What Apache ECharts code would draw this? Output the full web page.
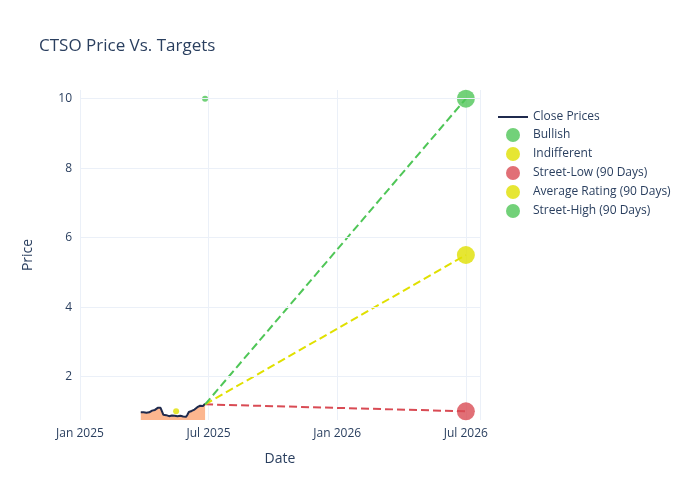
<!DOCTYPE html>
<html>
<head>
<meta charset="UTF-8">
<script src="https://cdn.jsdelivr.net/npm/echarts@6/dist/echarts.min.js"></script>
</head>
<body style="margin:0">
<div id="container" style="width:700px;height:500px"></div>
<script>
// x values are days since 2025-01-01
var priceDays = [86,88,90,92,94,96,98,100,102,104,106,108,110,112,114,116,118,120,122,124,126,128,130,132,134,136,138,140,142,144,146,148,150,152,154,156,158,160,162,164,166,168,170,172,174,176,177];
var priceVals = [0.97,0.96,0.97,0.95,0.96,0.94,0.97,1.0,1.02,1.05,1.04,1.08,1.1,1.06,1.1,1.0,0.9,0.88,0.89,0.87,0.86,0.9,0.88,0.86,0.87,0.85,0.86,0.84,0.87,0.86,0.85,0.86,0.84,0.9,0.98,1.0,1.01,1.0,1.05,1.08,1.12,1.1,1.16,1.2,1.15,1.2,1.22];
var bullish = [[177, 10]];
var indifferent = [[136, 1.0]];
var targetStart = [177, 1.2];
var targetDay = 546;
var streetLow = 1.0, avgRating = 5.5, streetHigh = 10.0;
var yGrid = [2, 4, 6, 8, 10];

var chart = echarts.init(document.getElementById('container'));
var font = 'Open Sans, sans-serif';
var txt = '#2a3f5f';
function d(n) { var t = new Date(Date.UTC(2025, 0, 1) + n * 86400000 + 15 * 86400000); return t; }
var months = ['Jan','Feb','Mar','Apr','May','Jun','Jul','Aug','Sep','Oct','Nov','Dec'];

option = {
    backgroundColor: '#fff',
    textStyle: { fontFamily: font },
    title: { text: 'CTSO Price Vs. Targets', left: 34, top: 33, textStyle: { fontFamily: font, fontSize: 17, fontWeight: 'normal', color: txt } },
    legend: {
        orient: 'vertical', left: 493, top: 106, itemGap: 5, itemWidth: 30, itemHeight: 14,
        textStyle: { fontFamily: font, fontSize: 12, color: txt },
        data: [
            { name: 'Close Prices', icon: 'path://M0,6 L30,6 L30,8 L0,8 Z' },
            { name: 'Bullish', icon: 'circle', itemStyle: {} },
            { name: 'Indifferent', icon: 'circle' },
            { name: 'Street-Low (90 Days)', icon: 'circle' },
            { name: 'Average Rating (90 Days)', icon: 'circle' },
            { name: 'Street-High (90 Days)', icon: 'circle' }
        ]
    },
    grid: { left: 80, right: 220, top: 90, bottom: 80 },
    xAxis: {
        type: 'value', min: 0, max: 566, interval: 182,
        name: 'Date', nameLocation: 'middle', nameGap: 32, nameTextStyle: { fontSize: 14, color: txt },
        axisLine: { show: false }, axisTick: { show: false },
        splitLine: { lineStyle: { color: '#ebf0f8' } },
        axisLabel: { color: txt, fontSize: 12, formatter: function (v) { var t = d(v); return months[t.getUTCMonth()] + ' ' + t.getUTCFullYear(); } }
    },
    yAxis: {
        type: 'value', min: 0.75, max: 10.25, interval: 0.25,
        name: 'Price', nameLocation: 'middle', nameGap: 45, nameTextStyle: { fontSize: 14, color: txt },
        axisLine: { show: false }, axisTick: { show: false }, splitLine: { show: false },
        axisLabel: { color: txt, fontSize: 12, formatter: function (v) { return (v % 2 === 0) ? String(v) : ''; } }
    },
    series: [
        {
            name: 'grid', type: 'line', data: [], silent: true,
            markLine: { symbol: 'none', silent: true, label: { show: false }, lineStyle: { color: '#ebf0f8', type: 'solid', width: 1 },
                data: yGrid.map(function (v) { return { yAxis: v }; }) }
        },
        {
            name: 'Close Prices', type: 'line', showSymbol: false, color: '#1f2a4d',
            lineStyle: { width: 2, color: '#1f2a4d' },
            areaStyle: { color: '#fcb68f', opacity: 1, origin: 'start' },
            data: priceDays.map(function (x, i) { return [x, priceVals[i]]; })
        },
        { name: 'Street-Low line', type: 'line', showSymbol: false, lineStyle: { type: 'dashed', color: '#d94b54', width: 2 }, data: [targetStart, [targetDay, streetLow]] },
        { name: 'Average line', type: 'line', showSymbol: false, lineStyle: { type: 'dashed', color: '#e0e000', width: 2 }, data: [targetStart, [targetDay, avgRating]] },
        { name: 'Street-High line', type: 'line', showSymbol: false, lineStyle: { type: 'dashed', color: '#4fc657', width: 2 }, data: [targetStart, [targetDay, streetHigh]] },
        { name: 'Bullish', type: 'scatter', symbolSize: 6, color: '#4fc657', data: bullish },
        { name: 'Indifferent', type: 'scatter', symbolSize: 6, color: '#e0e000', data: indifferent },
        { name: 'Street-Low (90 Days)', type: 'scatter', symbolSize: 18, color: '#d94b54', data: [[targetDay, streetLow]] },
        { name: 'Average Rating (90 Days)', type: 'scatter', symbolSize: 18, color: '#e0e000', data: [[targetDay, avgRating]] },
        { name: 'Street-High (90 Days)', type: 'scatter', symbolSize: 18, color: '#4fc657', data: [[targetDay, streetHigh]] }
    ]
};
chart.setOption(option);
</script>
</body>
</html>
